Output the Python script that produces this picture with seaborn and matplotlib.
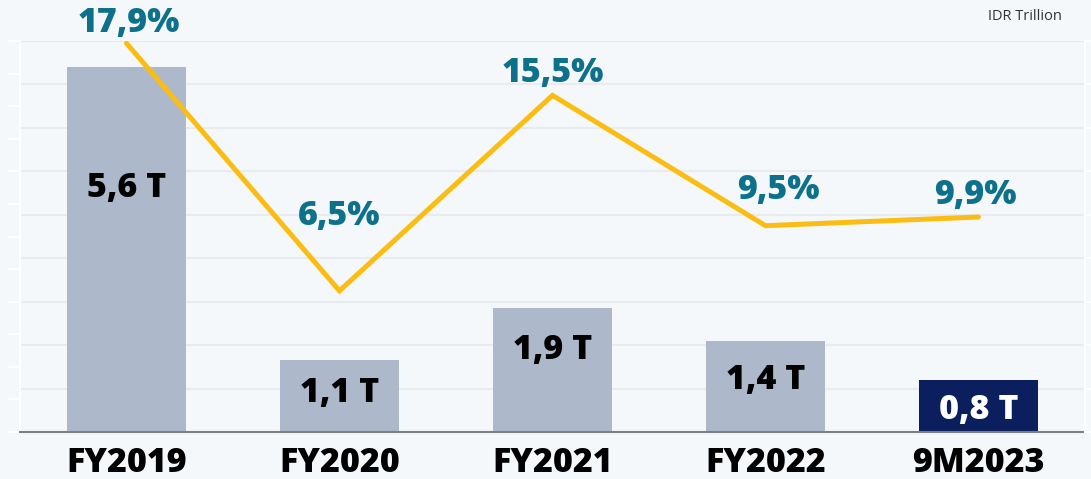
import matplotlib.pyplot as plt
import numpy as np
import pandas as pd
import seaborn as sns
from matplotlib.ticker import MultipleLocator

# Net profit (IDR trillion) and margin (%) per period
periods = ["FY2019", "FY2020", "FY2021", "FY2022", "9M2023"]
profit = [5.6, 1.1, 1.9, 1.4, 0.8]
profit_labels = ["5,6 T", "1,1 T", "1,9 T", "1,4 T", "0,8 T"]
margin = [17.9, 6.5, 15.5, 9.5, 9.9]
margin_labels = ["17,9%", "6,5%", "15,5%", "9,5%", "9,9%"]

BG = "#f5f8fb"
GREY_BAR = "#adb8cb"
NAVY = "#0b1f5e"
GOLD = "#fbbd12"
TEAL = "#0e718b"
GRID = "#e8ebef"


def main():
    sns.set_theme(style="white")
    plt.rcParams["font.family"] = ["Open Sans", "DejaVu Sans"]

    df = pd.DataFrame({"period": periods, "profit": profit, "margin": margin})
    colors = [GREY_BAR] * (len(periods) - 1) + [NAVY]

    fig = plt.figure(figsize=(10.91, 4.79), dpi=100, facecolor=BG)
    ax = fig.add_axes([0.0183, 0.098, 0.9762, 0.8163])
    ax.set_facecolor(BG)

    # grid lines follow the margin axis (0..18 step 2) but sit behind the bars
    for y in np.linspace(0, 6, 10)[1:]:
        ax.axhline(y, color=GRID, linewidth=1.5, zorder=0.5)

    sns.barplot(data=df, x="period", y="profit", hue="period", palette=colors,
                legend=False, width=0.555, saturation=1, linewidth=0, ax=ax, zorder=1)

    # bar value labels, placed inside the bars
    label_frac = [0.67, 0.55, 0.66, 0.57, 0.42]
    for i, (val, lbl) in enumerate(zip(profit, profit_labels)):
        color = "white" if i == len(profit) - 1 else "black"
        ax.text(i, val * label_frac[i], lbl, ha="center", va="center",
                fontsize=24.5, fontweight="heavy", color=color, zorder=3)

    ax.set_xlim(-0.5, 4.5)
    ax.set_ylim(0, 6)
    ax.yaxis.set_major_locator(MultipleLocator(0.5))
    ax.tick_params(axis="y", colors="white", length=8.6, width=1.5, labelleft=False)
    ax.tick_params(axis="x", length=0, pad=10, labelsize=24.5, labelcolor="black")
    for label in ax.get_xticklabels():
        label.set_fontweight("heavy")
    ax.set_xlabel("")
    ax.set_ylabel("")
    ax.spines["top"].set_visible(False)
    ax.spines["right"].set_visible(False)
    ax.spines["left"].set_color("white")
    ax.spines["left"].set_linewidth(1.5)
    ax.spines["bottom"].set_color("#7f7f7f")
    ax.spines["bottom"].set_linewidth(1.5)

    # margin line on a twin axis
    ax2 = ax.twinx()
    sns.lineplot(x=np.arange(len(periods)), y=margin, ax=ax2, color=GOLD,
                 linewidth=3.6, sort=False)
    ax2.lines[0].set_solid_capstyle("round")
    ax2.lines[0].set_solid_joinstyle("miter")
    ax2.set_xlim(-0.5, 4.5)
    ax2.set_ylim(0, 18)
    ax2.yaxis.set_major_locator(MultipleLocator(2))
    ax2.tick_params(axis="y", colors="white", length=8.6, width=1.5, labelright=False)
    ax2.set_ylabel("")
    for side in ["top", "left", "bottom"]:
        ax2.spines[side].set_visible(False)
    ax2.spines["right"].set_color("white")
    ax2.spines["right"].set_linewidth(1.5)

    offsets = [(2, 20), (0, 75), (0, 22), (13, 36), (-3, 22)]
    for i, (val, lbl) in enumerate(zip(margin, margin_labels)):
        ax2.annotate(lbl, (i, val), xytext=offsets[i], textcoords="offset pixels",
                     ha="center", va="center", fontsize=24.5, fontweight="heavy",
                     color=TEAL, annotation_clip=False)

    fig.text(1062 / 1091, 1 - 16 / 479, "IDR Trillion", ha="right", va="center",
             fontsize=10.5, color="#333333")

    fig.savefig("out.png", dpi=100, facecolor=BG)


if __name__ == "__main__":
    main()
